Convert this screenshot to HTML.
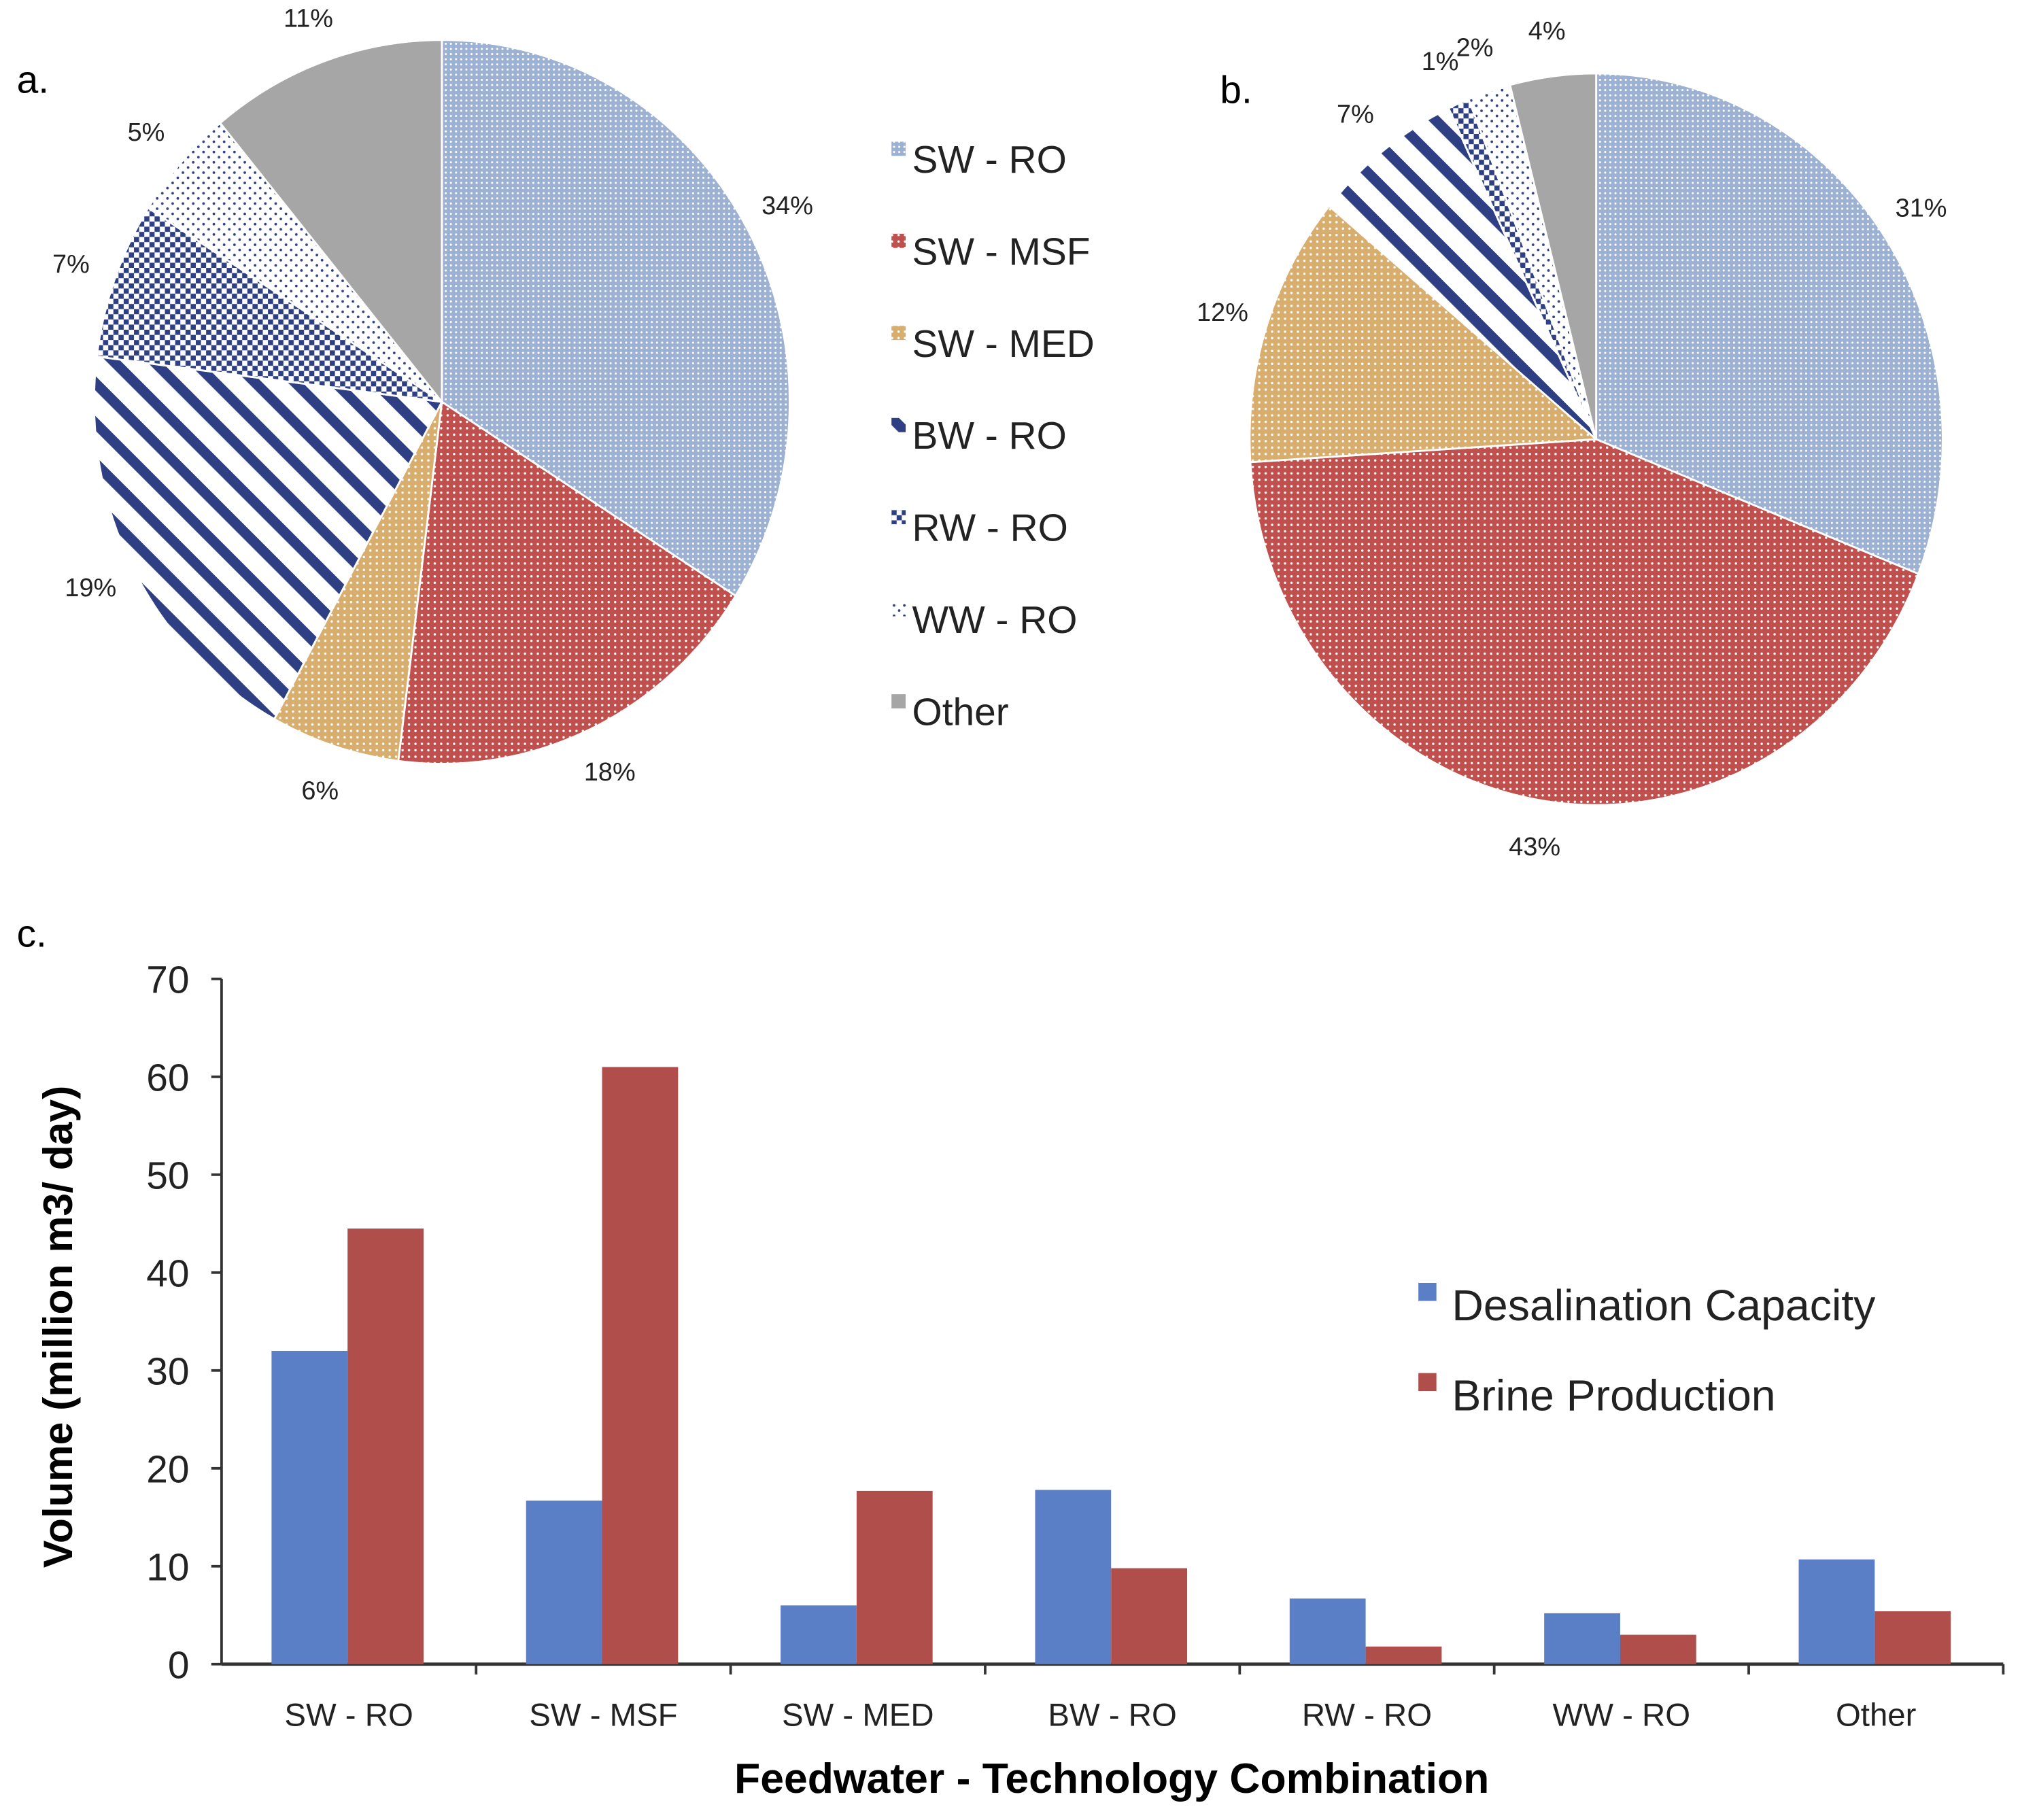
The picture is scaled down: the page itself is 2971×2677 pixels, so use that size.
<!DOCTYPE html>
<html><head><meta charset="utf-8"><style>
html,body{margin:0;padding:0;background:#fff;}
svg{display:block;font-family:"Liberation Sans",sans-serif;}
</style></head><body>
<svg id="chart" width="2971" height="2677" viewBox="0 0 1568 1413" preserveAspectRatio="none" xmlns="http://www.w3.org/2000/svg">
<defs>
<pattern id="p0" width="4" height="4" patternUnits="userSpaceOnUse"><rect width="4" height="4" fill="#9DB1D2"/><circle cx="2" cy="2" r="0.8" fill="#fff"/></pattern>
<pattern id="p1" width="5" height="5" patternUnits="userSpaceOnUse"><rect width="5" height="5" fill="#C0504D"/><circle cx="2.5" cy="2.5" r="0.9" fill="#fff"/></pattern>
<pattern id="p2" width="5" height="5" patternUnits="userSpaceOnUse"><rect width="5" height="5" fill="#D8AE6E"/><circle cx="2.5" cy="2.5" r="0.9" fill="#fff"/></pattern>
<pattern id="p3" width="22" height="22" patternUnits="userSpaceOnUse" patternTransform="rotate(45)"><rect width="22" height="22" fill="#fff"/><rect width="22" height="8" fill="#2E3F84"/></pattern>
<pattern id="p4" width="8" height="8" patternUnits="userSpaceOnUse"><rect width="8" height="8" fill="#fff"/><rect width="4" height="4" fill="#2E3F84"/><rect x="4" y="4" width="4" height="4" fill="#2E3F84"/></pattern>
<pattern id="p5" width="8" height="8" patternUnits="userSpaceOnUse"><rect width="8" height="8" fill="#fff"/><circle cx="2" cy="2" r="1" fill="#2E3F84"/><circle cx="6" cy="6" r="1" fill="#2E3F84"/></pattern>
<pattern id="p6" width="4" height="4" patternUnits="userSpaceOnUse"><rect width="4" height="4" fill="#A6A6A6"/></pattern>
</defs>
<text x="13" y="72" font-size="30">a.</text>
<text x="947" y="80" font-size="30">b.</text>
<text x="13" y="735" font-size="30">c.</text>
<g id="pieA"></g><g id="pieB"></g><g id="legendPie"></g><g id="bars"></g>
</svg>
<script>
const pieCategories=["SW - RO","SW - MSF","SW - MED","BW - RO","RW - RO","WW - RO","Other"];
const pieAValues=[34,18,6,19,7,5,11];
const pieBValues=[31,43,12,7,1,2,4];
const barCategories=["SW - RO","SW - MSF","SW - MED","BW - RO","RW - RO","WW - RO","Other"];
const capacityValues=[32,16.7,6,17.8,6.7,5.2,10.7];
const brineValues=[44.5,61,17.7,9.8,1.8,3,5.4];
const yTicks=[0,10,20,30,40,50,60,70];
const NS="http://www.w3.org/2000/svg";
function mk(tag,attrs,parent){const e=document.createElementNS(NS,tag);for(const k in attrs)e.setAttribute(k,attrs[k]);parent.appendChild(e);return e;}
function pie(g,vals,cx,cy,rx,ry,key){
  const tot=vals.reduce((a,b)=>a+b,0);let a0=0;
  vals.forEach((v,i)=>{
    const a1=a0+v/tot*2*Math.PI;
    const x0=cx+rx*Math.sin(a0),y0=cy-ry*Math.cos(a0),x1=cx+rx*Math.sin(a1),y1=cy-ry*Math.cos(a1);
    const p=mk('path',{d:`M${cx},${cy}L${x0},${y0}A${rx},${ry} 0 ${a1-a0>Math.PI?1:0} 1 ${x1},${y1}Z`,fill:`url(#p${i})`,stroke:'#fff','stroke-width':1.5},g);
    
    
    const am=(a0+a1)/2;
    const t=mk('text',{x:cx+(rx+36)*Math.sin(am),y:cy-(ry+36)*Math.cos(am)+7,'font-size':20,'text-anchor':'middle',fill:'#222'},g);
    t.textContent=v+'%';
    
    
    a0=a1;
  });
}
pie(document.getElementById('pieA'),pieAValues,343,312,270,281,'pie-a');
pie(document.getElementById('pieB'),pieBValues,1239,341,269,284,'pie-b');
const lg=document.getElementById('legendPie');
pieCategories.forEach((c,i)=>{
  const y=124+i*71.5;
  const r=mk('rect',{x:692,y:y-14,width:11,height:11,fill:`url(#p${i})`},lg);
  
  
  const t=mk('text',{x:708,y:y+10,'font-size':30,fill:'#222'},lg);
  t.textContent=c;
  
  
});
const bg=document.getElementById('bars');
const X0=172,X1=1555,Y0=1292,Ymax=70,Ytop=760;
const ys=v=>Y0-(v/Ymax)*(Y0-Ytop);
const bw=(X1-X0)/barCategories.length;
mk('line',{x1:X0,y1:Ytop,x2:X0,y2:Y0,stroke:'#333','stroke-width':2},bg);
mk('line',{x1:X0,y1:Y0,x2:X1,y2:Y0,stroke:'#333','stroke-width':2.5},bg);
yTicks.forEach(v=>{
  mk('line',{x1:X0-8,y1:ys(v),x2:X0,y2:ys(v),stroke:'#333','stroke-width':2},bg);
  const t=mk('text',{x:147,y:ys(v)+11,'font-size':30,'text-anchor':'end',fill:'#222'},bg);
  t.textContent=v;
  
  
});
barCategories.forEach((c,i)=>{
  const cx=X0+bw*(i+0.5);
  mk('line',{x1:X0+bw*(i+1),y1:Y0,x2:X0+bw*(i+1),y2:Y0+8,stroke:'#333','stroke-width':2},bg);
  const b1=mk('rect',{x:cx-60,y:ys(capacityValues[i]),width:59,height:Y0-ys(capacityValues[i]),fill:'#5B7FC7'},bg);
  
  
  const b2=mk('rect',{x:cx-1,y:ys(brineValues[i]),width:59,height:Y0-ys(brineValues[i]),fill:'#B04E4B'},bg);
  
  
  const t=mk('text',{x:cx,y:1340,'font-size':25,'text-anchor':'middle',fill:'#222'},bg);
  t.textContent=c;
  
  
});
const yt=mk('text',{x:0,y:0,'font-size':32,'font-weight':'bold','text-anchor':'middle',transform:'translate(56,1030) rotate(-90)'},bg);
yt.textContent='Volume (million m3/ day)';


const xt=mk('text',{x:863,y:1392,'font-size':33,'font-weight':'bold','text-anchor':'middle'},bg);
xt.textContent='Feedwater - Technology Combination';


[["Desalination Capacity","#5B7FC7",1013],["Brine Production","#B04E4B",1083]].forEach(([n,col,y])=>{
  const r=mk('rect',{x:1101,y:y-17,width:14,height:14,fill:col},bg);
  
  
  const t=mk('text',{x:1127,y:y+12,'font-size':34,fill:'#222'},bg);
  t.textContent=n;
  
  
});
</script>
</body></html>
